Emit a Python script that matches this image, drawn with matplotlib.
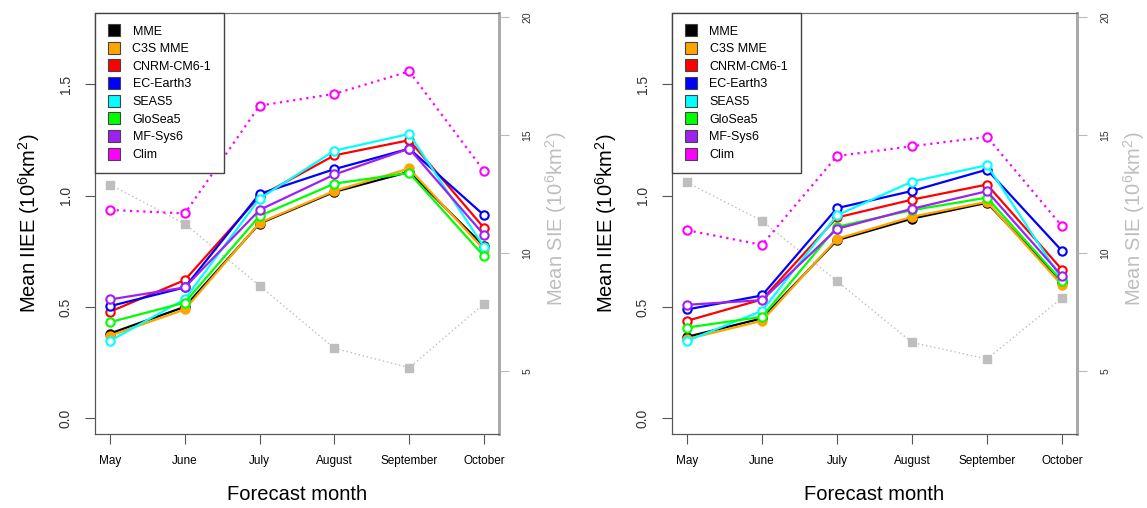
import matplotlib
matplotlib.use("Agg")
import matplotlib.pyplot as plt
from matplotlib.lines import Line2D

plt.rcParams['font.family'] = ['Liberation Sans', 'DejaVu Sans']

months = ['May', 'June', 'July', 'August', 'September', 'October']
models = ['MME', 'C3S MME', 'CNRM-CM6-1', 'EC-Earth3', 'SEAS5', 'GloSea5', 'MF-Sys6', 'Clim']
colors = ['black', '#FFA500', '#FF0000', '#0000FF', '#00FFFF', '#00FF00', '#A020F0', '#FF00FF']

# left panel: mean IIEE per forecast month (10^6 km^2)
iee_left = {
    'MME':        [0.381, 0.501, 0.875, 1.017, 1.107, 0.773],
    'C3S MME':    [0.371, 0.489, 0.878, 1.021, 1.122, 0.758],
    'CNRM-CM6-1': [0.479, 0.621, 0.997, 1.181, 1.249, 0.855],
    'EC-Earth3':  [0.504, 0.588, 1.008, 1.119, 1.211, 0.912],
    'SEAS5':      [0.348, 0.535, 0.987, 1.202, 1.277, 0.770],
    'GloSea5':    [0.432, 0.520, 0.909, 1.054, 1.102, 0.728],
    'MF-Sys6':    [0.534, 0.588, 0.936, 1.095, 1.211, 0.824],
    'Clim':       [0.936, 0.920, 1.404, 1.457, 1.558, 1.111],
}
sie_left = [12.9, 11.24, 8.61, 5.96, 5.14, 7.85]

# right panel
iee_right = {
    'MME':        [0.366, 0.449, 0.800, 0.897, 0.968, 0.613],
    'C3S MME':    [0.356, 0.438, 0.806, 0.905, 0.973, 0.598],
    'CNRM-CM6-1': [0.438, 0.534, 0.902, 0.982, 1.050, 0.668],
    'EC-Earth3':  [0.489, 0.552, 0.944, 1.021, 1.117, 0.752],
    'SEAS5':      [0.348, 0.483, 0.912, 1.063, 1.137, 0.624],
    'GloSea5':    [0.408, 0.456, 0.860, 0.935, 0.991, 0.616],
    'MF-Sys6':    [0.510, 0.531, 0.851, 0.941, 1.020, 0.639],
    'Clim':       [0.845, 0.779, 1.178, 1.222, 1.264, 0.863],
}
sie_right = [12.99, 11.36, 8.81, 6.21, 5.51, 8.10]

SIE_GREY = '#BEBEBE'
W, H = 1147, 508


def drawPanel(fig, rect, iee, sie):
    """Draw one panel: IIEE lines on the left axis, SIE on the right."""
    ax = fig.add_axes(rect)
    ax2 = ax.twinx()
    ax.set_zorder(ax2.get_zorder() + 1)
    ax.patch.set_visible(False)

    x = range(1, len(months) + 1)

    # sea ice extent, grey dotted with squares
    ax2.plot(x, sie, color=SIE_GREY, linestyle=(0, (1, 2)), linewidth=1,
             marker='s', markersize=6, markerfacecolor=SIE_GREY,
             markeredgecolor=SIE_GREY)

    for name, col in zip(models, colors):
        filled = name in ('MME', 'C3S MME')
        ls = (0, (1, 2)) if name == 'Clim' else '-'
        ax.plot(x, iee[name], color=col, linestyle=ls, linewidth=1.6,
                marker='o', markersize=6, markeredgewidth=1.5,
                markerfacecolor=col if filled else 'white',
                markeredgecolor=col)

    ax.set_xlim(0.8, 6.2)
    ax.set_ylim(-0.07, 1.82)
    ax2.set_ylim(2.33, 20.17)

    ax.set_xticks(list(x))
    ax.set_xticklabels(months, fontsize=8.5)
    ax.set_yticks([0.0, 0.5, 1.0, 1.5])
    ax.set_yticklabels(['0.0', '0.5', '1.0', '1.5'], fontsize=10,
                       rotation=90, va='center', color='#333333')
    ax2.set_yticks([5, 10, 15, 20])
    ax2.set_yticklabels(['5', '10', '15', '20'], fontsize=7.5,
                        rotation=90, va='center', color='#333333')

    ax.tick_params(axis='x', length=7, pad=8, color='#555555')
    ax.tick_params(axis='y', length=7, pad=9, color='#555555')
    ax2.tick_params(axis='y', length=7, pad=10, color='#BBBBBB')

    for a in (ax, ax2):
        a.spines['top'].set_color('#707070')
        a.spines['left'].set_color('#555555')
        a.spines['bottom'].set_color('#555555')
        a.spines['right'].set_color('#AAAAAA')
        a.spines['right'].set_linewidth(2)

    ax.text(0.5, -0.143, 'Forecast month', transform=ax.transAxes,
            ha='center', va='center', fontsize=14.5)
    ax.text(-0.163, 0.5, 'Mean IIEE ($\\mathregular{10^{6}km^{2}}$)',
            transform=ax.transAxes, rotation=90, ha='center', va='center',
            fontsize=14.5)
    ax.text(1.14, 0.51, 'Mean SIE ($\\mathregular{10^{6}km^{2}}$)',
            transform=ax.transAxes, rotation=90, ha='center', va='center',
            fontsize=14.5, color=SIE_GREY)

    handles = [Line2D([], [], linestyle='none', marker='s', markersize=8,
                      markerfacecolor=c, markeredgecolor='#444444',
                      markeredgewidth=0.8) for c in colors]
    leg = ax.legend(handles, models, loc='upper left', bbox_to_anchor=(0, 1),
                    borderaxespad=0, fontsize=9, frameon=True, fancybox=False,
                    framealpha=1, edgecolor='#444444', borderpad=1.0,
                    handlelength=1.0, handletextpad=1.0, labelspacing=0.45)
    leg.get_frame().set_linewidth(1)
    return ax


fig = plt.figure(figsize=(W / 100, H / 100), dpi=100)
drawPanel(fig, [95 / W, 74 / H, 404 / W, 421 / H], iee_left, sie_left)
drawPanel(fig, [672 / W, 74 / H, 405 / W, 421 / H], iee_right, sie_right)

fig.savefig('out.png', dpi=100)
